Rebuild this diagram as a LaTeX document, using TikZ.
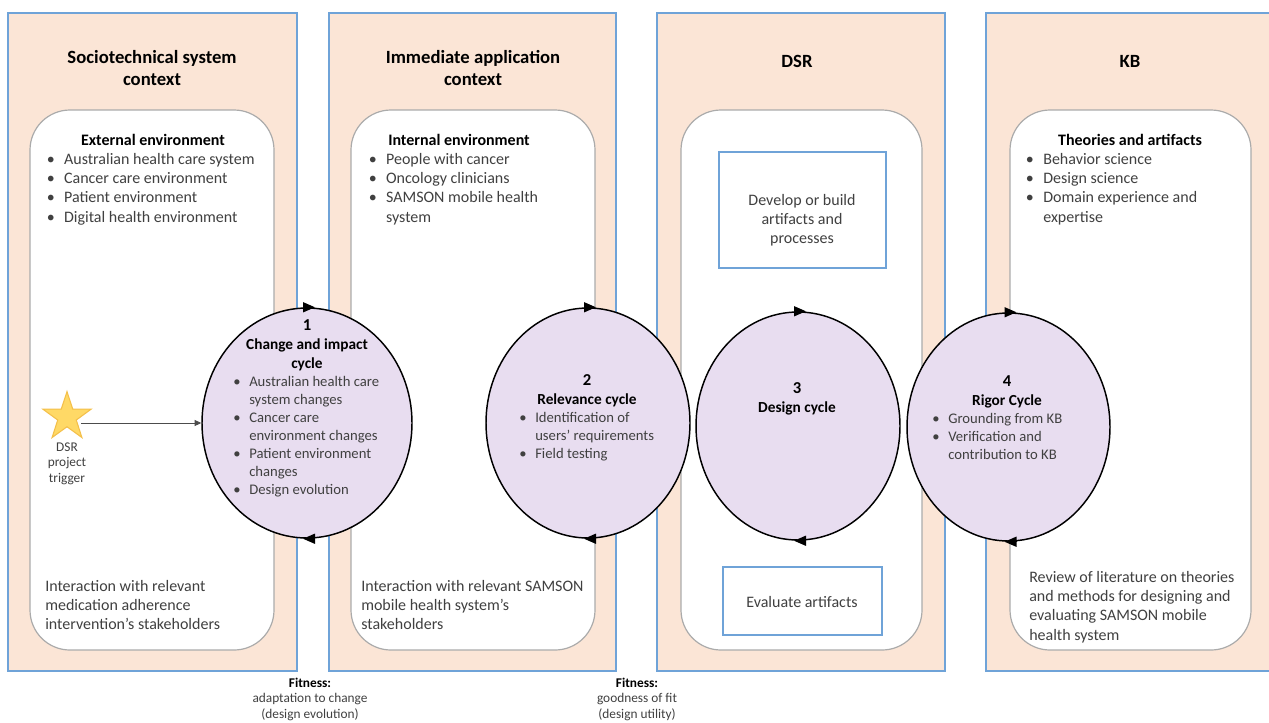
\documentclass[tikz,border=0pt]{standalone}
\usepackage{fontspec}
\setmainfont{Carlito}
\usetikzlibrary{shapes.geometric,arrows.meta,calc}

\definecolor{peach}{HTML}{FBE5D6}
\definecolor{panelblue}{HTML}{6FA3D8}
\definecolor{boxgray}{HTML}{ABABAB}
\definecolor{lav}{HTML}{E8DDF0}
\definecolor{ink}{HTML}{404040}
\definecolor{stargold}{HTML}{FFD966}
\definecolor{staredge}{HTML}{F4C04A}

% bullet with fixed hanging width, and the matching indent for wrapped lines
\newcommand\bul[1][12pt]{\makebox[#1][l]{\textbullet}}
\newcommand\ind[1][12pt]{\hspace*{#1}}
% stacked lines whose baseline is the first line
\newcommand\lcol[1]{\begin{tabular}[t]{@{}l@{}}#1\end{tabular}}
\newcommand\ccol[1]{\begin{tabular}[t]{@{}c@{}}#1\end{tabular}}

\tikzset{
  panel/.style={draw=panelblue, fill=peach, line width=0.9pt},
  innerbox/.style={draw=boxgray, fill=white, line width=0.9pt, rounded corners=30pt},
  dsrbox/.style={draw=panelblue, fill=white, line width=0.9pt, inner sep=0},
  cyc/.style={ellipse, draw=black, fill=lav, line width=1.1pt, inner sep=0},
  cyctip/.style={-{Triangle[length=9pt,width=7.5pt]}, line width=1.1pt},
  trigarrow/.style={-{Triangle[length=5pt,width=4.5pt]}, draw=black!70, line width=0.6pt},
  title/.style={inner sep=0, anchor=base, text=black, font=\fontsize{14}{17.2}\selectfont\bfseries},
  head/.style={inner sep=0, anchor=base, text=black, font=\fontsize{12}{14.6}\selectfont\bfseries},
  body/.style={inner sep=0, anchor=base west, text=ink, font=\fontsize{12}{14.6}\selectfont},
  cbody/.style={inner sep=0, anchor=base west, text=ink, font=\fontsize{11}{13.5}\selectfont},
  chead/.style={inner sep=0, anchor=base, text=black, font=\fontsize{11.5}{14.5}\selectfont\bfseries},
  small/.style={inner sep=0, anchor=base, text=ink, font=\fontsize{10}{11.8}\selectfont},
}

\begin{document}
\begin{tikzpicture}[x=0.75pt, y=-0.75pt]
\useasboundingbox (0,0) rectangle (1269,722);
\clip (0,0) rectangle (1269,722);

% four context columns
\draw[panel] (8,13) rectangle (297,671);
\draw[panel] (329,13) rectangle (616,671);
\draw[panel] (657,13) rectangle (945,671);
\draw[panel] (986,13) rectangle (1300,671);

% rounded environment boxes
\draw[innerbox] (30,110) rectangle (274,650);
\draw[innerbox] (351,110) rectangle (595,650);
\draw[innerbox] (681,110) rectangle (922,650);
\draw[innerbox] (1010,110) rectangle (1251,650);

% column titles
\node[title] (t1) at (152,63) {\ccol{Sociotechnical system\\context}};
\node[title] (t2) at (473,63) {\ccol{Immediate application\\context}};
\node[title] (t3) at (797,67) {DSR};
\node[title] (t4) at (1130,67) {KB};

% external environment
\node[head] (h1) at (153,145) {External environment};
\node[body] (l1) at (46.5,164) {\lcol{\bul[13pt]Australian health care system\\
  \bul[13pt]Cancer care environment\\
  \bul[13pt]Patient environment\\
  \bul[13pt]Digital health environment}};
\node[body] (b1) at (45,591) {\lcol{Interaction with relevant\\
  medication adherence\\
  intervention’s stakeholders}};

% internal environment
\node[head] (h2) at (459,145) {Internal environment};
\node[body] (l2) at (368.5,164) {\lcol{\bul[13pt]People with cancer\\
  \bul[13pt]Oncology clinicians\\
  \bul[13pt]SAMSON mobile health\\
  \ind[13pt]system}};
\node[body] (b2) at (361,591) {\lcol{Interaction with relevant SAMSON\\
  mobile health system’s\\
  stakeholders}};

% design science research activities
\node[dsrbox, minimum width=125.25pt, minimum height=87pt] (build) at (802.5,210) {};
\node[body, anchor=base] (buildtxt) at (802,205) {\ccol{Develop or build\\artifacts and\\processes}};
\node[dsrbox, minimum width=119.25pt, minimum height=51pt] (eval) at (802.5,601) {};
\node[body, anchor=base] (evaltxt) at (802,607) {Evaluate artifacts};

% knowledge base
\node[head] (h4) at (1130,145) {Theories and artifacts};
\node[body] (l4) at (1025.7,164) {\lcol{\bul[13pt]Behavior science\\
  \bul[13pt]Design science\\
  \bul[13pt]Domain experience and\\
  \ind[13pt]expertise}};
\node[body] (b4) at (1029,582) {\lcol{Review of literature on theories\\
  and methods for designing and\\
  evaluating SAMSON mobile\\
  health system}};

% the four cycles
\node[cyc, minimum width=157.5pt, minimum height=172.5pt] (e1) at (307,423) {};
\node[cyc, minimum width=153pt, minimum height=172.5pt] (e2) at (588,423) {};
\node[cyc, minimum width=153pt, minimum height=171pt] (e3) at (798,426) {};
\node[cyc, minimum width=152.25pt, minimum height=171pt] (e4) at (1008.5,427) {};

\foreach \e in {e1,e2,e3,e4}{
  \draw[cyctip] ($(\e.north)+(-4,0)$) -- ($(\e.north)+(8,0)$);
  \draw[cyctip] ($(\e.south)+(7,0)$) -- ($(\e.south)+(-4,0)$);
}

\node[chead] (c1h) at (307,330) {\ccol{\fontsize{12.5}{14.5}\selectfont 1\\Change and impact\\cycle}};
\node[cbody] (c1l) at (233,386) {\lcol{\bul Australian health care\\
  \ind system changes\\
  \bul Cancer care\\
  \ind environment changes\\
  \bul Patient environment\\
  \ind changes\\
  \bul Design evolution}};

\node[chead] (c2h) at (587,385) {\ccol{\fontsize{12.5}{14.5}\selectfont 2\\Relevance cycle}};
\node[cbody] (c2l) at (519,422) {\lcol{\bul Identification of\\
  \ind users’ requirements\\
  \bul Field testing}};

\node[chead] (c3h) at (797,393) {\ccol{\fontsize{12.5}{14.5}\selectfont 3\\Design cycle}};

\node[chead] (c4h) at (1007,386) {\ccol{\fontsize{12.5}{14.5}\selectfont 4\\Rigor Cycle}};
\node[cbody] (c4l) at (932,423) {\lcol{\bul Grounding from KB\\
  \bul Verification and\\
  \ind contribution to KB}};

% project trigger
\node[star, star points=5, star point ratio=2.6, minimum size=38pt, inner sep=0,
      fill=stargold, draw=staredge, line width=0.8pt] (trig) at (67,417) {};
\draw[trigarrow] (trig.east |- e1.west) -- (e1.west);
\node[small] (trigtxt) at (67,451) {\ccol{DSR\\project\\trigger}};

% fitness notes under the gaps
\node[small] (fit1) at (310,687) {\ccol{\textcolor{black}{\bfseries Fitness:}\\adaptation to change\\(design evolution)}};
\node[small] (fit2) at (637,687) {\ccol{\textcolor{black}{\bfseries Fitness:}\\goodness of fit\\(design utility)}};
\end{tikzpicture}
\end{document}
